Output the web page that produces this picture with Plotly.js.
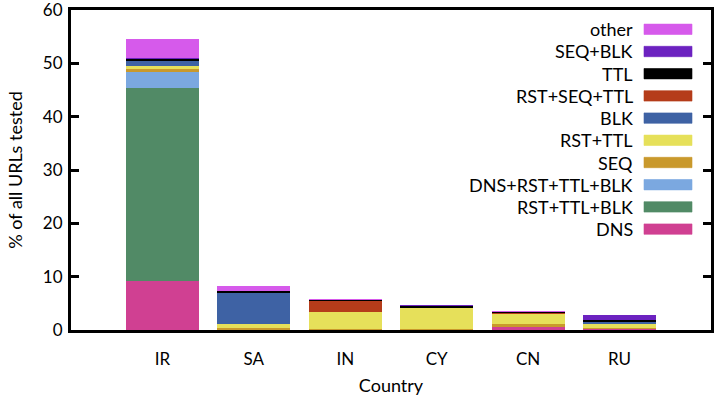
<!DOCTYPE html>
<html>
<head>
<meta charset="utf-8">
<script src="https://cdn.plot.ly/plotly-3.0.1.min.js"></script>
<style>html,body{margin:0;padding:0;background:#fff;}#chart{width:720px;height:401px;}</style>
</head>
<body>
<div id="chart"></div>
<script>
// Categories
const countries = ["IR", "SA", "IN", "CY", "CN", "RU"];

// Series (bottom of stack to top), % of all URLs tested
const DNS            = [9.1,  0,   0,    0,    0.5,  0.1];
const RST_TTL_BLK    = [36.2, 0,   0,    0,    0,    0];
const DNS_RST_TTL_BLK= [3.1,  0,   0,    0,    0,    0.1];
const SEQ            = [0.5,  0.4, 0.15, 0.2,  0.6,  0.1];
const RST_TTL        = [0.6,  0.8, 3.3,  3.9,  1.95, 0.8];
const BLK            = [0.9,  5.8, 0,    0,    0,    0.4];
const RST_SEQ_TTL    = [0.1,  0,   1.95, 0,    0.1,  0];
const TTL            = [0.35, 0.4, 0.15, 0.35, 0.25, 0.3];
const SEQ_BLK        = [0.15, 0,   0.1,  0.15, 0.05, 0.95];
const OTHER          = [3.6,  0.85,0.25, 0.1,  0.2,  0.05];

const seriesNames  = ["DNS", "RST+TTL+BLK", "DNS+RST+TTL+BLK", "SEQ", "RST+TTL", "BLK", "RST+SEQ+TTL", "TTL", "SEQ+BLK", "other"];
const seriesValues = [DNS, RST_TTL_BLK, DNS_RST_TTL_BLK, SEQ, RST_TTL, BLK, RST_SEQ_TTL, TTL, SEQ_BLK, OTHER];
const seriesColors = ["#d04092", "#518a66", "#7ba8e0", "#c9992c", "#e6e05a", "#3e62a4", "#b53c1a", "#000000", "#6c22c0", "#d65aeb"];

const yTicks = [0, 10, 20, 30, 40, 50, 60];

const FONT = "Lato, 'Open Sans', sans-serif";

const traces = seriesNames.map((name, i) => ({
  type: "bar",
  name: name,
  x: countries,
  y: seriesValues[i],
  width: 0.8,
  marker: {color: seriesColors[i], line: {width: 0}},
  showlegend: false,
  hoverinfo: "x+y+name"
}));

// Manual legend: text right-aligned, swatch on the right, top item = last series
const L = 71, R = 711, T = 10, B = 330;
const shapes = [], annotations = [];
const n = seriesNames.length;
for (let k = 0; k < n; k++) {
  const i = n - 1 - k;
  const cy = 29.3 + 22.2 * k;
  const yp = (B - cy) / (B - T);
  const h = 5.2 / (B - T);
  shapes.push({
    type: "rect", xref: "paper", yref: "paper",
    x0: (644 - L) / (R - L), x1: (692 - L) / (R - L),
    y0: yp - h, y1: yp + h,
    fillcolor: seriesColors[i], line: {width: 0.6, color: seriesColors[i]}
  });
  annotations.push({
    xref: "paper", yref: "paper",
    x: (635 - L) / (R - L), y: yp,
    xanchor: "right", yanchor: "middle",
    text: seriesNames[i], showarrow: false,
    font: {family: FONT, size: 18, color: "#000"}
  });
}

const layout = {
  width: 720, height: 401,
  margin: {l: L, r: 720 - R, t: T, b: 401 - B, pad: 0},
  paper_bgcolor: "#fff", plot_bgcolor: "#fff",
  barmode: "stack",
  showlegend: false,
  font: {family: FONT, size: 17, color: "#000"},
  xaxis: {
    type: "category",
    range: [-1, 6],
    showgrid: false, zeroline: false,
    showline: true, linecolor: "#000", linewidth: 3, mirror: true,
    ticks: "", ticklabelstandoff: 12, tickfont: {family: FONT, size: 17},
    title: {text: "Country", font: {family: FONT, size: 18}, standoff: 11}
  },
  yaxis: {
    range: [0, 60],
    tickvals: yTicks,
    ticktext: yTicks.map(String),
    ticklabeloverflow: "allow",
    showgrid: false, zeroline: false,
    showline: true, linecolor: "#000", linewidth: 3, mirror: "ticks",
    ticks: "inside", ticklen: 8, tickwidth: 3, tickcolor: "#000",
    ticklabelstandoff: 2,
    tickfont: {family: FONT, size: 17},
    title: {text: "% of all URLs tested", font: {family: FONT, size: 18}, standoff: 16}
  },
  shapes: shapes,
  annotations: annotations
};

Plotly.newPlot("chart", traces, layout, {displayModeBar: false, staticPlot: true});
</script>
</body>
</html>
